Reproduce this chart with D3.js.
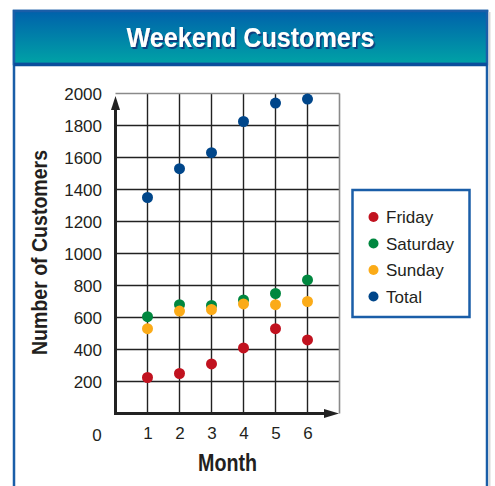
<!DOCTYPE html>
<html><head><meta charset="utf-8">
<script src="https://cdn.jsdelivr.net/npm/d3@7"></script>
<style>html,body{margin:0;padding:0;background:#fff;}svg{display:block;}</style>
</head><body>
<script>
const months = [1, 2, 3, 4, 5, 6];
const seriesNames = ["Friday", "Saturday", "Sunday", "Total"];
const friday   = [225, 250, 310, 410, 530, 460];
const saturday = [605, 680, 675, 710, 750, 835];
const sunday   = [530, 640, 650, 685, 680, 700];
const total    = [1350, 1530, 1630, 1825, 1940, 1965];
const yTicks = [200, 400, 600, 800, 1000, 1200, 1400, 1600, 1800, 2000];
const xTicks = [1, 2, 3, 4, 5, 6];
const colors = {Friday: "#c1121f", Saturday: "#00873f", Sunday: "#fbab18", Total: "#00468a"};
const seriesData = {Friday: friday, Saturday: saturday, Sunday: sunday, Total: total};
const drawOrder = ["Saturday", "Sunday", "Friday", "Total"];

const W = 495, H = 486;
const svg = d3.select("body").append("svg").attr("width", W).attr("height", H);
const defs = svg.append("defs");
const grad = defs.append("linearGradient").attr("id", "tg").attr("x1", 0).attr("y1", 0).attr("x2", 0).attr("y2", 1);
grad.append("stop").attr("offset", "0%").attr("stop-color", "#0061ab");
grad.append("stop").attr("offset", "100%").attr("stop-color", "#00a3a6");
const flt = defs.append("filter").attr("id", "ts").attr("x", "-10%").attr("y", "-30%").attr("width", "130%").attr("height", "160%");
flt.append("feDropShadow").attr("dx", 1.6).attr("dy", 2).attr("stdDeviation", 0.3)
  .attr("flood-color", "#0b3d7e").attr("flood-opacity", 1);

// frame
svg.append("rect").attr("x", 14).attr("y", 11).attr("width", 473).attr("height", 490)
  .attr("fill", "#fff").attr("stroke", "#1a5ea8").attr("stroke-width", 2.5);
svg.append("rect").attr("x", 14).attr("y", 11).attr("width", 473).attr("height", 53)
  .attr("fill", "url(#tg)").attr("stroke", "#1a5ea8").attr("stroke-width", 2.5);
svg.append("line").attr("x1", 14).attr("x2", 487).attr("y1", 64.5).attr("y2", 64.5)
  .attr("stroke", "#0b4f9c").attr("stroke-width", 3.5);
svg.append("line").attr("x1", 489.5).attr("x2", 489.5).attr("y1", 12).attr("y2", 486)
  .attr("stroke", "#d8d8d8").attr("stroke-width", 2);

// title
const font = "'Liberation Sans', Arial, sans-serif";
svg.append("text").attr("x", 126.5).attr("y", 46.5).attr("textLength", 248).attr("lengthAdjust", "spacingAndGlyphs")
  .attr("font-family", font).attr("font-weight", "bold").attr("font-size", 28).attr("fill", "#fff")
  .attr("filter", "url(#ts)")
  .text("Weekend Customers");

// scales
const x = d3.scaleLinear().domain([0, 7]).range([115.5, 339.5]);
const y = d3.scaleLinear().domain([0, 2000]).range([413.5, 93.5]);

const plot = svg.append("g");
// grid
plot.selectAll("line.hg").data(yTicks.filter(d => d < 2000)).join("line")
  .attr("x1", x(0)).attr("x2", x(7)).attr("y1", d => y(d)).attr("y2", d => y(d))
  .attr("stroke", "#222").attr("stroke-width", 1.4);
plot.selectAll("line.vg").data(xTicks).join("line")
  .attr("x1", d => x(d)).attr("x2", d => x(d)).attr("y1", y(2000)).attr("y2", y(0))
  .attr("stroke", "#222").attr("stroke-width", 1.4);
// top and right border grey
plot.append("line").attr("x1", x(0)).attr("x2", x(7)).attr("y1", y(2000)).attr("y2", y(2000))
  .attr("stroke", "#8a8a8a").attr("stroke-width", 1.6);
plot.append("line").attr("x1", x(7)).attr("x2", x(7)).attr("y1", y(2000)).attr("y2", y(0))
  .attr("stroke", "#8a8a8a").attr("stroke-width", 1.6);

// axes (thick) with arrows
plot.append("line").attr("x1", x(0)).attr("x2", x(0)).attr("y1", y(0) + 1.5).attr("y2", 106)
  .attr("stroke", "#222").attr("stroke-width", 3);
plot.append("path").attr("d", `M${x(0)},96 L${x(0) - 4.5},110 L${x(0) + 4.5},110 Z`).attr("fill", "#222");
plot.append("line").attr("x1", x(0) - 1.5).attr("x2", 326).attr("y1", y(0)).attr("y2", y(0))
  .attr("stroke", "#222").attr("stroke-width", 3);
plot.append("path").attr("d", `M339,${y(0)} L324,${y(0) - 4.5} L324,${y(0) + 4.5} Z`).attr("fill", "#222");

// tick labels via d3 axes
const yAxis = svg.append("g").attr("transform", `translate(102,0)`)
  .call(d3.axisLeft(y).tickValues(yTicks).tickSize(0).tickPadding(0).tickFormat(d3.format("d")));
yAxis.select(".domain").remove();
yAxis.selectAll("text").attr("font-family", font).attr("font-size", 17).attr("fill", "#231f20").attr("dy", "0.36em");

const xAxis = svg.append("g").attr("transform", `translate(0,427)`)
  .call(d3.axisBottom(x).tickValues(xTicks).tickSize(0).tickPadding(0).tickFormat(d3.format("d")));
xAxis.select(".domain").remove();
xAxis.selectAll("text").attr("font-family", font).attr("font-size", 17).attr("fill", "#231f20").attr("dy", "0.71em");
svg.append("text").attr("x", 97).attr("y", 441).attr("text-anchor", "middle")
  .attr("font-family", font).attr("font-size", 17).attr("fill", "#231f20").text("0");

// axis titles
svg.append("text").attr("x", 198).attr("y", 471).attr("textLength", 59).attr("lengthAdjust", "spacingAndGlyphs")
  .attr("font-family", font).attr("font-weight", "bold").attr("font-size", 23).attr("fill", "#231f20").text("Month");
svg.append("text").attr("transform", "translate(46.5,355) rotate(-90)").attr("textLength", 205).attr("lengthAdjust", "spacingAndGlyphs")
  .attr("font-family", font).attr("font-weight", "bold").attr("font-size", 22).attr("fill", "#231f20").text("Number of Customers");

// points
drawOrder.forEach(name => {
  plot.append("g").selectAll("circle").data(months.map((m, i) => ({m, v: seriesData[name][i]}))).join("circle")
    .attr("cx", d => x(d.m)).attr("cy", d => y(d.v)).attr("r", 5.5).attr("fill", colors[name]);
});

// legend
const lg = svg.append("g");
lg.append("rect").attr("x", 352.5).attr("y", 190).attr("width", 117).attr("height", 127)
  .attr("fill", "#fff").attr("stroke", "#1a5ea8").attr("stroke-width", 2.5);
const ly = d3.scalePoint().domain(seriesNames).range([217, 296.5]);
lg.selectAll("circle").data(seriesNames).join("circle")
  .attr("cx", 373.5).attr("cy", d => ly(d)).attr("r", 5).attr("fill", d => colors[d]);
lg.selectAll("text").data(seriesNames).join("text")
  .attr("x", 386).attr("y", d => ly(d)).attr("dy", "0.36em")
  .attr("font-family", font).attr("font-size", 17).attr("fill", "#231f20").text(d => d);
</script>
</body></html>
